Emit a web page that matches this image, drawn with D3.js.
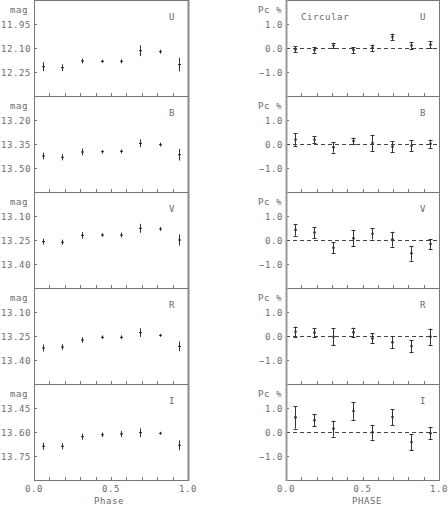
<!DOCTYPE html>
<html>
<head>
<meta charset="utf-8">
<script src="https://cdn.jsdelivr.net/npm/d3@7"></script>
<style>
  body { margin: 0; background: white; }
  text { font-family: "DejaVu Sans Mono", monospace; font-size: 9px; letter-spacing: 0.6px; fill: #6a6a6a; }
</style>
</head>
<body>
<div id="chart"></div>
<script>
// phases of the 8 bins
var phases = [0.06, 0.185, 0.31, 0.44, 0.565, 0.69, 0.815, 0.94];
var bands = ["U", "B", "V", "R", "I"];

// photometry (mag) and errors
var magU = [12.217, 12.223, 12.181, 12.183, 12.183, 12.117, 12.123, 12.204];
var errU = [0.025, 0.018, 0.012, 0.007, 0.009, 0.031, 0.009, 0.040];
var magB = [13.425, 13.433, 13.400, 13.398, 13.396, 13.346, 13.354, 13.417];
var errB = [0.018, 0.016, 0.018, 0.008, 0.009, 0.021, 0.009, 0.033];
var magV = [13.260, 13.264, 13.221, 13.219, 13.219, 13.177, 13.181, 13.250];
var errV = [0.015, 0.013, 0.018, 0.008, 0.012, 0.025, 0.009, 0.031];
var magR = [13.325, 13.319, 13.275, 13.258, 13.258, 13.229, 13.246, 13.315];
var errR = [0.019, 0.014, 0.014, 0.008, 0.009, 0.024, 0.006, 0.027];
var magI = [13.689, 13.689, 13.629, 13.617, 13.612, 13.604, 13.608, 13.683];
var errI = [0.019, 0.016, 0.016, 0.011, 0.016, 0.024, 0.006, 0.028];

// mag axis ranges (top, bottom) and tick labels
var magDomains = [[11.80, 12.40], [13.05, 13.65], [12.95, 13.55], [12.95, 13.55], [13.30, 13.90]];
var magTicks = [[11.95, 12.10, 12.25], [13.20, 13.35, 13.50], [13.10, 13.25, 13.40], [13.10, 13.25, 13.40], [13.45, 13.60, 13.75]];

// circular polarization (%) and errors
var pcU = [-0.05, -0.08, 0.10, -0.08, 0.01, 0.46, 0.10, 0.14];
var pcErrU = [0.13, 0.12, 0.12, 0.12, 0.13, 0.14, 0.15, 0.15];
var pcB = [0.19, 0.18, -0.14, 0.12, 0.04, -0.11, -0.07, 0.01];
var pcErrB = [0.27, 0.15, 0.22, 0.14, 0.32, 0.22, 0.22, 0.17];
var pcV = [0.42, 0.31, -0.32, 0.07, 0.26, 0.03, -0.55, -0.17];
var pcErrV = [0.24, 0.23, 0.24, 0.33, 0.24, 0.31, 0.31, 0.22];
var pcR = [0.18, 0.14, -0.03, 0.15, -0.10, -0.26, -0.42, -0.03];
var pcErrR = [0.21, 0.20, 0.36, 0.20, 0.21, 0.26, 0.26, 0.34];
var pcI = [0.61, 0.49, 0.14, 0.87, -0.01, 0.62, -0.42, -0.05];
var pcErrI = [0.47, 0.26, 0.33, 0.36, 0.31, 0.33, 0.33, 0.26];
var pcTicks = [1.0, 0.0, -1.0];
var phaseTicks = [0.0, 0.5, 1.0];

var mags = [magU, magB, magV, magR, magI];
var magErrs = [errU, errB, errV, errR, errI];
var pcs = [pcU, pcB, pcV, pcR, pcI];
var pcErrs = [pcErrU, pcErrB, pcErrV, pcErrR, pcErrI];

(function() {
var width = 448, height = 505;
var panelH = 96;
var leftX = [34, 188], rightX = [286, 439];
var frameColor = "#777";

var svg = d3.select("#chart").append("svg").attr("width", width).attr("height", height);

var xLeft = d3.scaleLinear().domain([0, 1]).range(leftX);
var xRight = d3.scaleLinear().domain([0, 1]).range(rightX);

function drawFrame(g, x, y0) {
    var x0 = x.range()[0], x1 = x.range()[1];
    g.append("rect")
        .attr("x", x0 + 0.5).attr("y", y0 + 0.5)
        .attr("width", x1 - x0).attr("height", panelH)
        .attr("fill", "none")
        .attr("stroke", frameColor)
        .attr("stroke-width", 1);
    // minor phase ticks pointing up from the bottom edge
    for (var t = 1; t < 10; t++) {
        var px = Math.round(x(t / 10)) + 0.5;
        g.append("line")
            .attr("x1", px).attr("x2", px)
            .attr("y1", y0 + panelH).attr("y2", y0 + panelH - 3)
            .attr("stroke", frameColor);
    }
}

function drawYAxis(g, x, y, ticks, fmt) {
    var x0 = x.range()[0];
    ticks.forEach(function(v) {
        var py = Math.round(y(v)) + 0.5;
        g.append("line")
            .attr("x1", x0).attr("x2", x0 + 3)
            .attr("y1", py).attr("y2", py)
            .attr("stroke", frameColor);
        g.append("text")
            .attr("x", x0 - 3).attr("y", py + 3.5)
            .attr("text-anchor", "end")
            .text(fmt(v));
    });
}

for (var b = 0; b < 5; b++) {
    var panelTop = b * panelH;

    // ---- left column: magnitudes
    var gl = svg.append("g");
    var yMag = d3.scaleLinear().domain(magDomains[b]).range([panelTop, panelTop + panelH]);
    drawFrame(gl, xLeft, panelTop);
    drawYAxis(gl, xLeft, yMag, magTicks[b], d3.format(".2f"));
    gl.append("text").attr("x", 28).attr("y", panelTop + 13).attr("text-anchor", "end").text("mag");
    gl.append("text").attr("x", 172).attr("y", panelTop + 20).attr("text-anchor", "middle").text(bands[b]);

    var md = phases.map(function(p, i) { return {p: p, v: mags[b][i], e: magErrs[b][i]}; });
    gl.selectAll(".eb").data(md).enter().append("line")
        .attr("x1", function(d) { return Math.round(xLeft(d.p)) + 0.5; })
        .attr("x2", function(d) { return Math.round(xLeft(d.p)) + 0.5; })
        .attr("y1", function(d) { return yMag(d.v - d.e) - 0.5; })
        .attr("y2", function(d) { return yMag(d.v + d.e) + 0.5; })
        .attr("stroke", "#333").attr("stroke-width", 1);
    gl.selectAll(".pt").data(md).enter().append("rect")
        .attr("x", function(d) { return Math.round(xLeft(d.p)) - 1; })
        .attr("y", function(d) { return yMag(d.v) - 0.5; })
        .attr("width", 3).attr("height", 1)
        .attr("fill", "#222");

    // ---- right column: circular polarization
    var gr = svg.append("g");
    var yPc = d3.scaleLinear().domain([2, -2]).range([panelTop, panelTop + panelH]);
    drawFrame(gr, xRight, panelTop);
    drawYAxis(gr, xRight, yPc, pcTicks, function(v) { return v < 0 ? "\u22121.0" : d3.format(".1f")(v); });
    gr.append("text").attr("x", 282).attr("y", panelTop + 13).attr("text-anchor", "end").text("Pc %");
    gr.append("text").attr("x", 423).attr("y", panelTop + 20).attr("text-anchor", "middle").text(bands[b]);
    if (b == 0)
        gr.append("text").attr("x", 301).attr("y", panelTop + 20).text("Circular");

    // zero line
    gr.append("line")
        .attr("x1", rightX[0]).attr("x2", rightX[1])
        .attr("y1", Math.round(yPc(0)) + 0.5).attr("y2", Math.round(yPc(0)) + 0.5)
        .attr("stroke", "#444").attr("stroke-dasharray", "4,3");

    var pd = phases.map(function(p, i) { return {p: p, v: pcs[b][i], e: pcErrs[b][i]}; });
    var eb = gr.selectAll(".eb").data(pd).enter().append("g")
        .attr("transform", function(d) { return "translate(" + (Math.round(xRight(d.p)) + 0.5) + ",0)"; });
    eb.append("line")
        .attr("y1", function(d) { return yPc(d.v + d.e); })
        .attr("y2", function(d) { return yPc(d.v - d.e); })
        .attr("stroke", "#333");
    eb.append("line")
        .attr("x1", -2).attr("x2", 2)
        .attr("y1", function(d) { return Math.round(yPc(d.v + d.e)) + 0.5; })
        .attr("y2", function(d) { return Math.round(yPc(d.v + d.e)) + 0.5; })
        .attr("stroke", "#333");
    eb.append("line")
        .attr("x1", -2).attr("x2", 2)
        .attr("y1", function(d) { return Math.round(yPc(d.v - d.e)) + 0.5; })
        .attr("y2", function(d) { return Math.round(yPc(d.v - d.e)) + 0.5; })
        .attr("stroke", "#333");
    eb.append("circle")
        .attr("cy", function(d) { return yPc(d.v); })
        .attr("r", 1.3)
        .attr("fill", "#333");
}

// heavier inner vertical borders, as in the original plot
svg.append("line").attr("x1", leftX[1] + 0.5).attr("x2", leftX[1] + 0.5)
    .attr("y1", 0).attr("y2", 5 * panelH + 1).attr("stroke", "#888").attr("stroke-width", 2);
svg.append("line").attr("x1", rightX[0] + 0.5).attr("x2", rightX[0] + 0.5)
    .attr("y1", 0).attr("y2", 5 * panelH + 1).attr("stroke", "#999").attr("stroke-width", 2);

// bottom axis labels
var bottom = 5 * panelH;
phaseTicks.forEach(function(t) {
    svg.append("text").attr("x", xLeft(t)).attr("y", bottom + 12).attr("text-anchor", "middle").text(d3.format(".1f")(t));
    svg.append("text").attr("x", xRight(t)).attr("y", bottom + 12).attr("text-anchor", "middle").text(d3.format(".1f")(t));
});
svg.append("text").attr("x", 109).attr("y", bottom + 24).attr("text-anchor", "middle").text("Phase");
svg.append("text").attr("x", 367).attr("y", bottom + 24).attr("text-anchor", "middle").text("PHASE");
})();
</script>
</body>
</html>
